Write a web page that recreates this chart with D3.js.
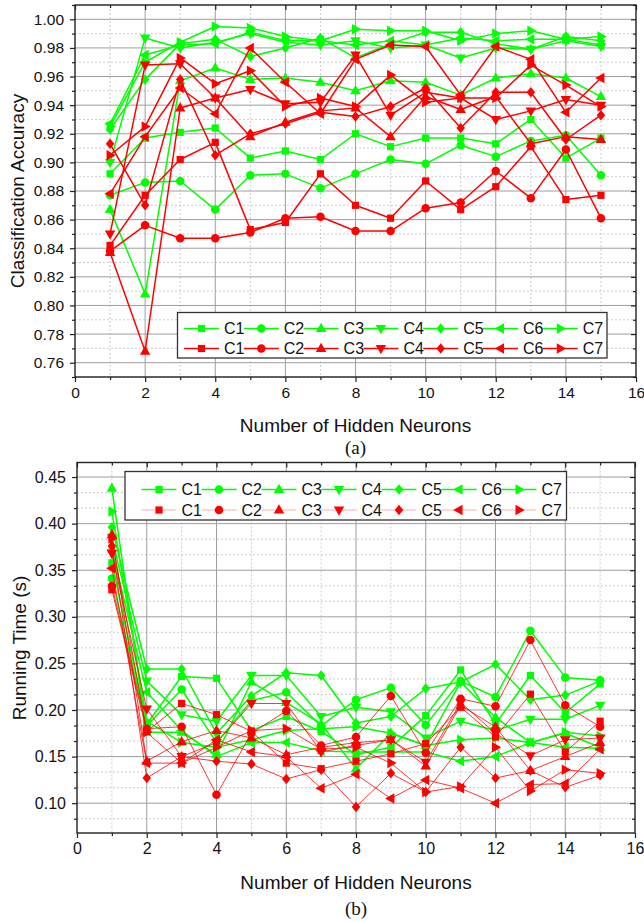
<!DOCTYPE html>
<html><head><meta charset="utf-8">
<script src="https://cdn.jsdelivr.net/npm/d3@7"></script>
<style>body{margin:0;background:#fff} svg{display:block}</style>
</head><body>
<svg id="chart" width="644" height="922"></svg>
<script>
// ---------- DATA ----------
const neurons = [1,2,3,4,5,6,7,8,9,10,11,12,13,14,15];
const seriesNames = ["C1","C2","C3","C4","C5","C6","C7"];
const markerShapes = ["square","circle","up","down","diamond","left","right"];

// Panel (a): classification accuracy
const accuracyGreen = [
  [0.892,0.917,0.921,0.924,0.903,0.908,0.902,0.920,0.911,0.917,0.917,0.913,0.930,0.903,0.917],
  [0.877,0.886,0.887,0.867,0.891,0.892,0.882,0.892,0.902,0.899,0.912,0.904,0.915,0.919,0.891],
  [0.867,0.808,0.957,0.966,0.958,0.959,0.956,0.950,0.957,0.956,0.947,0.959,0.962,0.959,0.946],
  [0.900,0.987,0.980,0.984,0.990,0.984,0.982,0.985,0.980,0.982,0.973,0.980,0.979,0.985,0.981],
  [0.923,0.958,0.983,0.986,0.974,0.980,0.987,0.973,0.983,0.991,0.991,0.983,0.979,0.988,0.985],
  [0.927,0.975,0.982,0.983,0.991,0.985,0.985,0.982,0.985,0.982,0.987,0.985,0.986,0.986,0.982],
  [0.925,0.970,0.984,0.995,0.994,0.988,0.985,0.993,0.992,0.992,0.985,0.990,0.992,0.986,0.988]
];
const accuracyRed = [
  [0.842,0.877,0.902,0.914,0.853,0.858,0.892,0.870,0.861,0.887,0.867,0.883,0.911,0.874,0.877],
  [0.838,0.856,0.847,0.847,0.851,0.861,0.862,0.852,0.852,0.868,0.872,0.894,0.875,0.909,0.861],
  [0.837,0.768,0.938,0.945,0.918,0.928,0.936,0.938,0.918,0.946,0.937,0.946,0.913,0.918,0.916],
  [0.850,0.968,0.969,0.945,0.951,0.941,0.942,0.975,0.933,0.949,0.945,0.930,0.936,0.944,0.940],
  [0.913,0.870,0.958,0.905,0.920,0.927,0.935,0.932,0.939,0.952,0.924,0.949,0.949,0.916,0.933],
  [0.878,0.918,0.952,0.934,0.980,0.956,0.934,0.972,0.982,0.981,0.947,0.981,0.972,0.935,0.959],
  [0.905,0.925,0.973,0.955,0.964,0.939,0.945,0.939,0.961,0.942,0.945,0.945,0.968,0.954,0.939]
];

// Panel (b): running time (s)
const timeGreen = [
  [0.358,0.185,0.236,0.234,0.178,0.193,0.177,0.152,0.160,0.194,0.243,0.185,0.237,0.197,0.228],
  [0.341,0.183,0.222,0.165,0.210,0.219,0.183,0.211,0.224,0.184,0.231,0.214,0.285,0.235,0.232],
  [0.438,0.176,0.176,0.152,0.230,0.208,0.185,0.137,0.175,0.162,0.230,0.192,0.165,0.175,0.160],
  [0.385,0.231,0.195,0.188,0.237,0.237,0.193,0.203,0.198,0.170,0.188,0.178,0.190,0.190,0.205],
  [0.396,0.244,0.244,0.175,0.215,0.240,0.237,0.186,0.193,0.223,0.230,0.249,0.211,0.216,0.231],
  [0.372,0.219,0.178,0.150,0.165,0.165,0.156,0.155,0.155,0.155,0.145,0.150,0.165,0.160,0.159],
  [0.413,0.188,0.165,0.160,0.168,0.178,0.180,0.182,0.175,0.162,0.168,0.170,0.165,0.176,0.172]
];
const timeRed = [
  [0.329,0.177,0.207,0.195,0.177,0.143,0.137,0.145,0.153,0.164,0.203,0.171,0.217,0.155,0.188],
  [0.333,0.180,0.182,0.109,0.175,0.199,0.162,0.171,0.215,0.154,0.212,0.204,0.275,0.205,0.182],
  [0.388,0.145,0.166,0.178,0.170,0.152,0.160,0.165,0.168,0.140,0.205,0.182,0.135,0.150,0.165],
  [0.368,0.201,0.150,0.165,0.207,0.207,0.155,0.162,0.168,0.144,0.208,0.175,0.151,0.168,0.170],
  [0.376,0.127,0.150,0.145,0.142,0.126,0.136,0.096,0.132,0.112,0.160,0.127,0.135,0.117,0.130],
  [0.352,0.143,0.143,0.168,0.155,0.150,0.116,0.131,0.105,0.125,0.116,0.100,0.120,0.121,0.158],
  [0.384,0.176,0.143,0.160,0.178,0.180,0.158,0.160,0.143,0.112,0.118,0.160,0.113,0.136,0.132]
];

const xTickLabels = [0,2,4,6,8,10,12,14,16];
const accTickLabels = [0.76,0.78,0.80,0.82,0.84,0.86,0.88,0.90,0.92,0.94,0.96,0.98,1.00];
const timeTickLabels = [0.10,0.15,0.20,0.25,0.30,0.35,0.40,0.45];

// ---------- DRAWING ----------
const GREEN = "#00ff00", RED = "#ff0000";
const FONT = "'Liberation Sans', Arial, sans-serif";
const svg = d3.select("#chart");

function poly(pts){ return {draw(ctx, size){ const R = Math.sqrt(size);
  ctx.moveTo(pts[0][0]*R, pts[0][1]*R);
  for (let i=1;i<pts.length;i++) ctx.lineTo(pts[i][0]*R, pts[i][1]*R);
  ctx.closePath(); }}; }
const symbolTypes = {
  square: {draw(ctx,size){ const s=Math.sqrt(size)*0.72; ctx.rect(-s,-s,2*s,2*s);} },
  circle: {draw(ctx,size){ const r=Math.sqrt(size)*0.85; ctx.moveTo(r,0); ctx.arc(0,0,r,0,2*Math.PI);} },
  up: poly([[0,-1.15],[1.05,0.7],[-1.05,0.7]]),
  down: poly([[0,1.15],[1.05,-0.7],[-1.05,-0.7]]),
  diamond: poly([[0,-1.05],[0.85,0],[0,1.05],[-0.85,0]]),
  left: poly([[-1.15,0],[0.7,-1.05],[0.7,1.05]]),
  right: poly([[1.15,0],[-0.7,-1.05],[-0.7,1.05]])
};
function markerPath(shape, R){ return d3.symbol().type(symbolTypes[shape]).size(R*R)(); }

function drawPanel(cfg){
  const x = d3.scaleLinear().domain([0,16]).range([cfg.x0, cfg.x1]);
  const y = d3.scaleLinear().domain(cfg.yDomain).range([cfg.y1, cfg.y0]);
  const g = svg.append("g");

  const xMinor = [1,3,5,7,9,11,13,15];
  const xMajor = xTickLabels;
  g.selectAll(null).data(cfg.yMinor).enter().append("line")
    .attr("x1", cfg.x0).attr("x2", cfg.x1).attr("y1", d=>y(d)).attr("y2", d=>y(d))
    .attr("stroke", "#c8c8c8").attr("stroke-width", 0.9).attr("stroke-dasharray", "2,2");
  g.selectAll(null).data(xMinor).enter().append("line")
    .attr("y1", cfg.y0).attr("y2", cfg.y1).attr("x1", d=>x(d)).attr("x2", d=>x(d))
    .attr("stroke", "#c8c8c8").attr("stroke-width", 0.9).attr("stroke-dasharray", "2,2");
  g.selectAll(null).data(cfg.yMajor).enter().append("line")
    .attr("x1", cfg.x0).attr("x2", cfg.x1).attr("y1", d=>y(d)).attr("y2", d=>y(d))
    .attr("stroke", "#9e9e9e").attr("stroke-width", 1);
  g.selectAll(null).data(xMajor.slice(1,-1)).enter().append("line")
    .attr("y1", cfg.y0).attr("y2", cfg.y1).attr("x1", d=>x(d)).attr("x2", d=>x(d))
    .attr("stroke", "#9e9e9e").attr("stroke-width", 1);

  const tickStyle = sel => { sel.select(".domain").remove();
    sel.selectAll(".tick line").attr("stroke","#222").attr("stroke-width",1.2);
    sel.selectAll("text").attr("font-family", FONT).attr("font-size", cfg.tickFont).attr("fill","#111"); };
  g.append("g").attr("transform", `translate(0,${cfg.y1})`)
    .call(d3.axisBottom(x).tickValues(xMajor).tickSize(5).tickPadding(5).tickFormat(d3.format("d"))).call(tickStyle);
  g.append("g").attr("transform", `translate(0,${cfg.y1})`)
    .call(d3.axisBottom(x).tickValues(xMinor).tickSize(3).tickFormat("")).call(tickStyle);
  g.append("g").attr("transform", `translate(0,${cfg.y0})`)
    .call(d3.axisTop(x).tickValues(xMajor).tickSize(-5).tickFormat("")).call(tickStyle);
  g.append("g").attr("transform", `translate(0,${cfg.y0})`)
    .call(d3.axisTop(x).tickValues(xMinor).tickSize(-3).tickFormat("")).call(tickStyle);
  g.append("g").attr("transform", `translate(${cfg.x0},0)`)
    .call(d3.axisLeft(y).tickValues(cfg.yMajor).tickSize(5).tickPadding(6).tickFormat(d3.format(".2f"))).call(tickStyle);
  g.append("g").attr("transform", `translate(${cfg.x0},0)`)
    .call(d3.axisLeft(y).tickValues(cfg.yMinor).tickSize(3).tickFormat("")).call(tickStyle);
  g.append("g").attr("transform", `translate(${cfg.x1},0)`)
    .call(d3.axisRight(y).tickValues(cfg.yMajor).tickSize(-5).tickFormat("")).call(tickStyle);
  g.append("g").attr("transform", `translate(${cfg.x1},0)`)
    .call(d3.axisRight(y).tickValues(cfg.yMinor).tickSize(-3).tickFormat("")).call(tickStyle);

  const line = d3.line().x((d,i)=>x(neurons[i])).y(d=>y(d));
  const groups = [{data: cfg.green, color: GREEN, w: 1.5}, {data: cfg.red, color: RED, w: cfg.redW}];
  groups.forEach(grp => {
    grp.data.forEach((vals, si) => {
      g.append("path").attr("d", line(vals)).attr("fill","none")
        .attr("stroke", grp.color).attr("stroke-width", grp.w).attr("stroke-linejoin","round");
      g.selectAll(null).data(vals).enter().append("path")
        .attr("d", markerPath(markerShapes[si], 5))
        .attr("transform", (d,i)=>`translate(${x(neurons[i])},${y(d)})`)
        .attr("fill", grp.color);
    });
  });

  g.append("rect").attr("x", cfg.x0).attr("y", cfg.y0)
    .attr("width", cfg.x1-cfg.x0).attr("height", cfg.y1-cfg.y0)
    .attr("fill","none").attr("stroke","#222").attr("stroke-width",1.4);

  const L = cfg.legend;
  g.append("rect").attr("x", L.x).attr("y", L.y).attr("width", L.w).attr("height", L.h)
    .attr("fill","#fff").attr("stroke","#333").attr("stroke-width",1.3);
  [[GREEN, 1.5, L.row1], [RED, cfg.redLegendW, L.row2]].forEach(([col, w, ry], ri) => {
    seriesNames.forEach((name, si) => {
      const lx = L.lineStart + si*L.spacing;
      g.append("line").attr("x1", lx).attr("x2", lx+35).attr("y1", ry).attr("y2", ry)
        .attr("stroke", ri===1 && cfg.redLegendLight ? "#ff9a9a" : col).attr("stroke-width", w);
      g.append("path").attr("d", markerPath(markerShapes[si], 5))
        .attr("transform", `translate(${lx+17.5},${ry})`).attr("fill", col);
      g.append("text").attr("x", lx+40).attr("y", ry).attr("dy","0.36em")
        .attr("font-family", FONT).attr("font-size", L.font).attr("fill","#111").text(name);
    });
  });

  const xc = (cfg.x0+cfg.x1)/2;
  g.append("text").attr("x", xc).attr("y", cfg.xTitleY).attr("text-anchor","middle").attr("dy","0.36em")
    .attr("font-family", FONT).attr("font-size", 19).attr("fill","#111").text("Number of Hidden Neurons");
  g.append("text").attr("transform", `translate(${cfg.yTitleX},${cfg.yTitleY}) rotate(-90)`)
    .attr("text-anchor","middle").attr("dy","0.36em")
    .attr("font-family", FONT).attr("font-size", 19).attr("fill","#111").text(cfg.yTitle);
  g.append("text").attr("x", xc).attr("y", cfg.captionY).attr("text-anchor","middle").attr("dy","0.36em")
    .attr("font-family", "'Liberation Serif', 'Times New Roman', serif").attr("font-size", 19).attr("fill","#111").text(cfg.caption);
}

const accMinor = d3.range(75, 102, 1).map(v => v/100);
drawPanel({
  x0: 75, x1: 636, y0: 5, y1: 377, yDomain: [0.75, 1.01],
  yMajor: accTickLabels, yMinor: accMinor.filter(v => !accTickLabels.some(t => Math.abs(t-v)<1e-9)),
  green: accuracyGreen, red: accuracyRed, redW: 1.5, redLegendW: 1.5, redLegendLight: false,
  tickFont: 15.5,
  legend: {x: 177.5, y: 312.5, w: 429.5, h: 45.5, row1: 328.5, row2: 348.5, lineStart: 184, spacing: 59.8, font: 16},
  xTitleY: 425, yTitleX: 17, yTitleY: 191, yTitle: "Classification Accuracy",
  captionY: 447, caption: "(a)"
});

const timeMinor = d3.range(4, 28, 1).map(k => k*0.05/3).filter(v => v > 0.068 && v < 0.4655);
drawPanel({
  x0: 77, x1: 635, y0: 462.5, y1: 833, yDomain: [0.068, 0.4656],
  yMajor: timeTickLabels, yMinor: timeMinor.filter(v => !timeTickLabels.some(t => Math.abs(t-v)<1e-9)),
  green: timeGreen, red: timeRed, redW: 0.8, redLegendW: 0.8, redLegendLight: true,
  tickFont: 16,
  legend: {x: 125, y: 471.5, w: 441.5, h: 48.5, row1: 489.5, row2: 510, lineStart: 141.5, spacing: 60, font: 16},
  xTitleY: 882, yTitleX: 19, yTitleY: 648, yTitle: "Running Time (s)",
  captionY: 908, caption: "(b)"
});
</script>
</body></html>
